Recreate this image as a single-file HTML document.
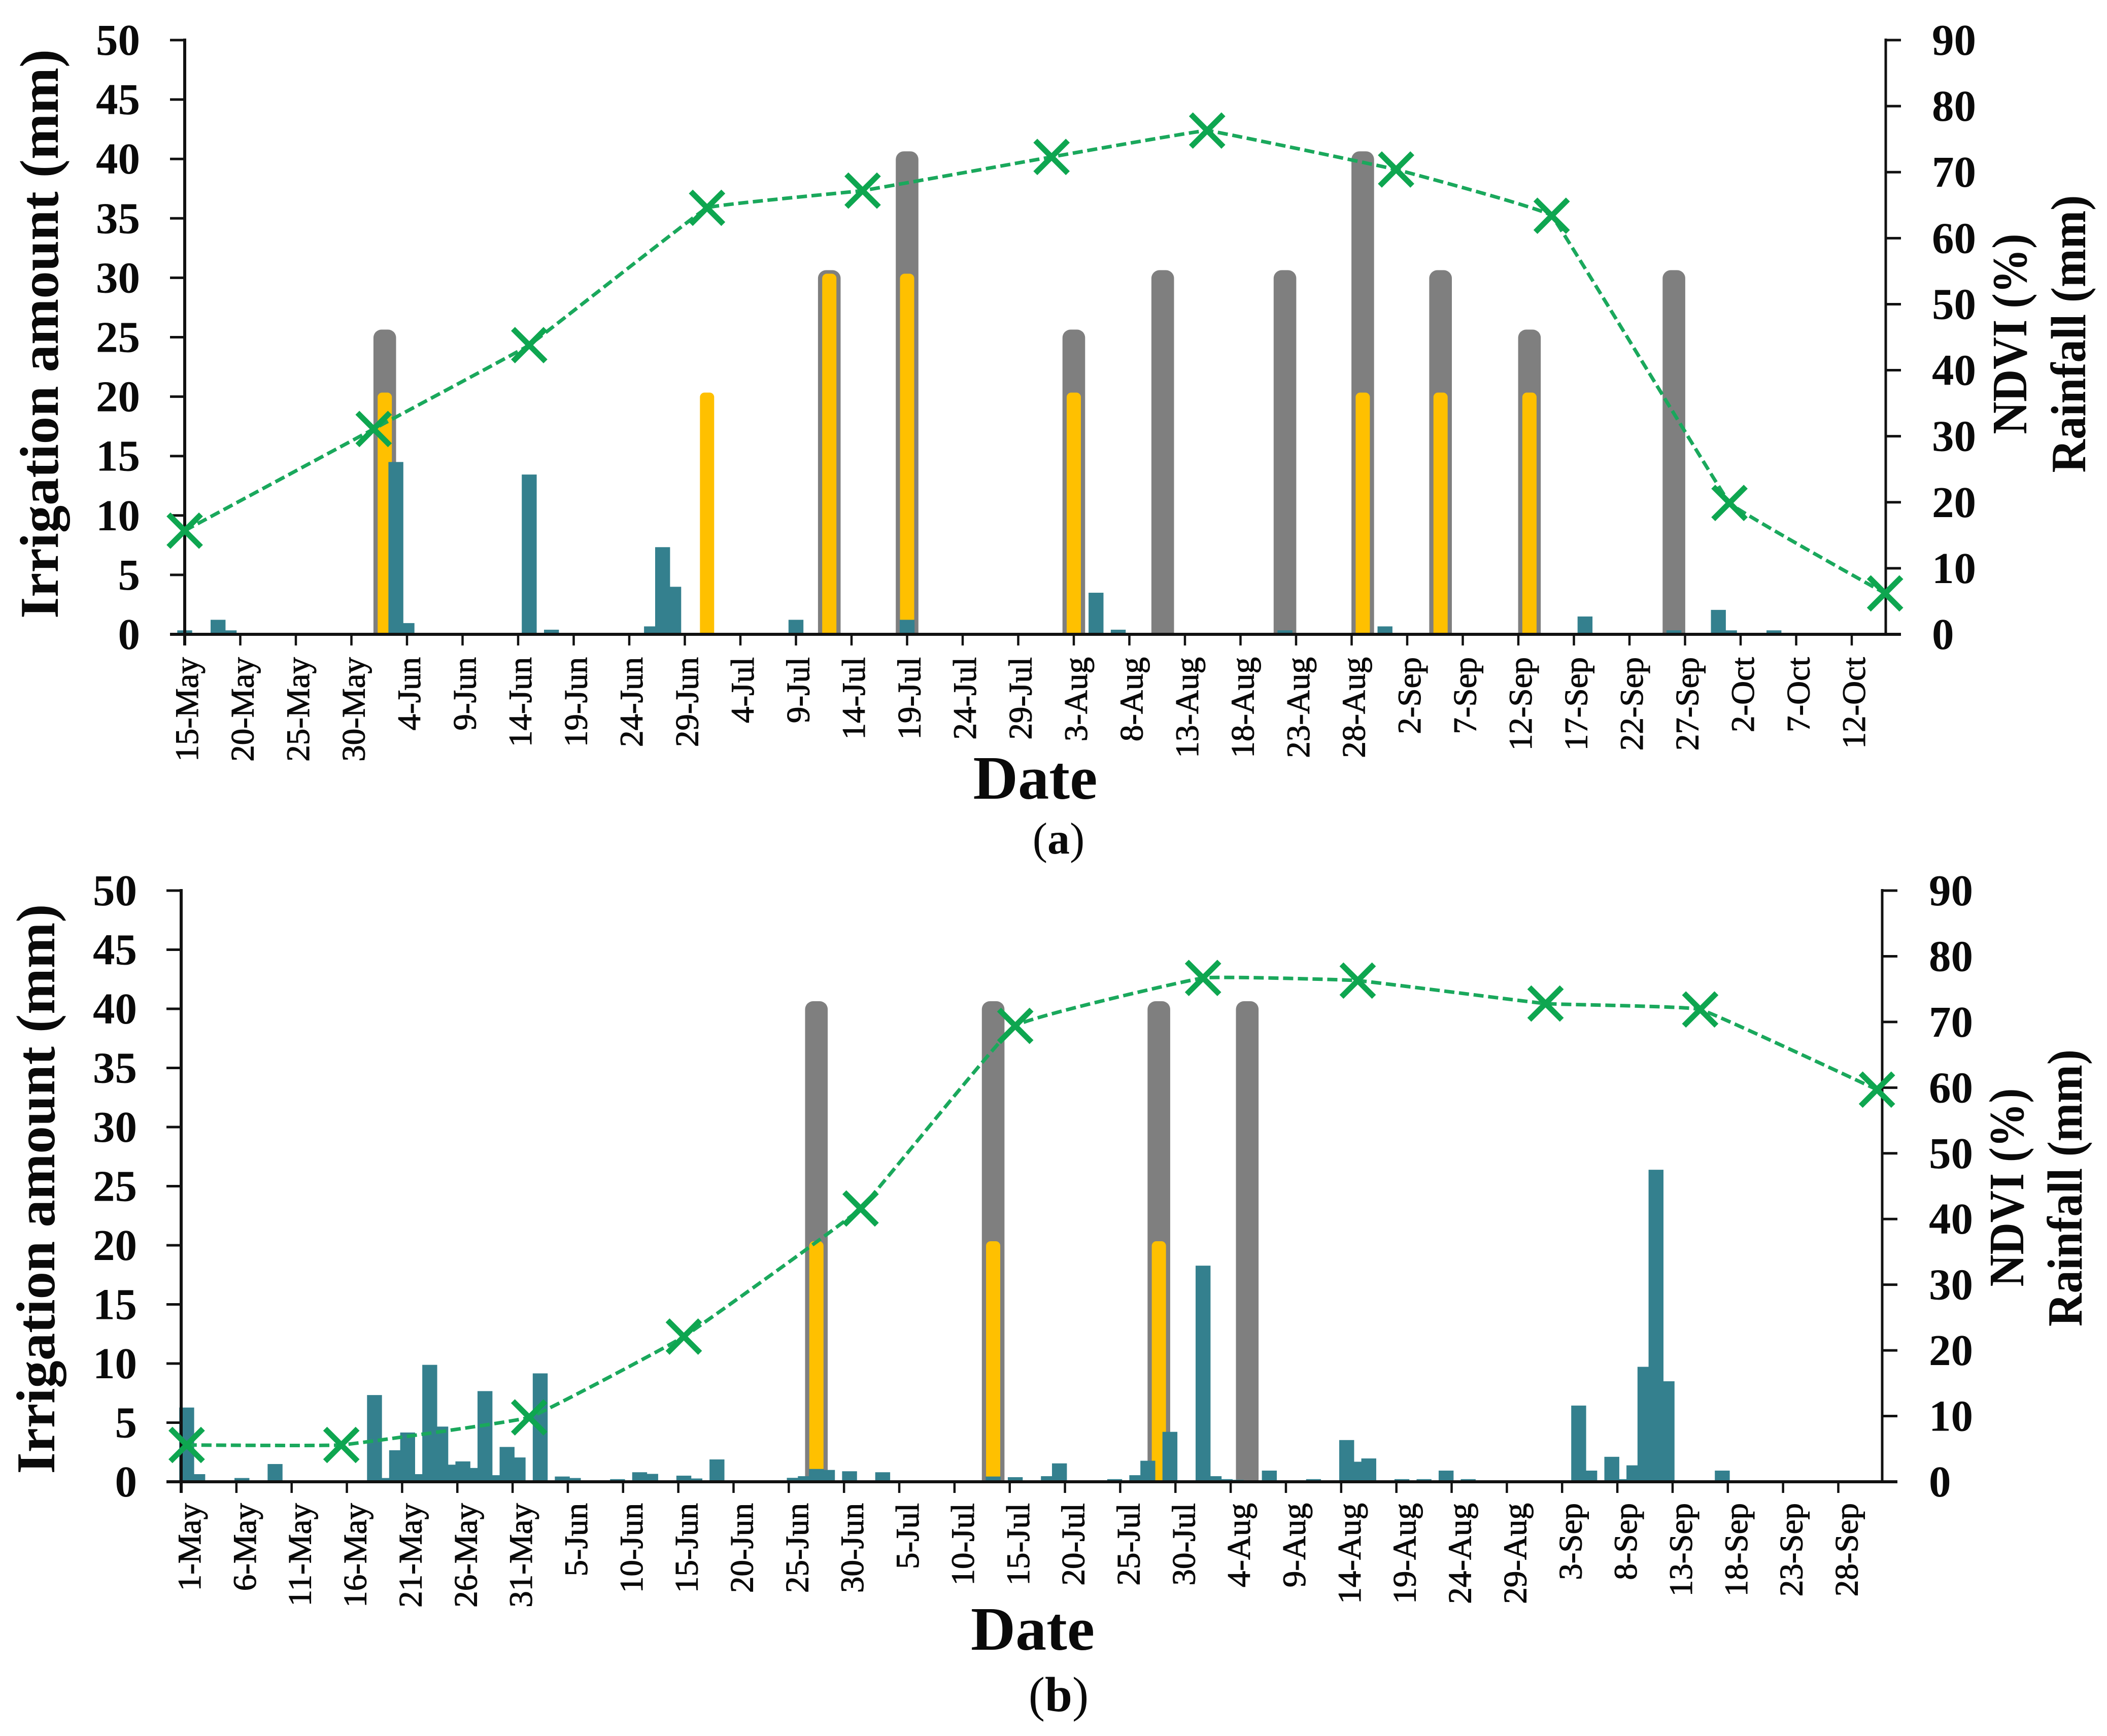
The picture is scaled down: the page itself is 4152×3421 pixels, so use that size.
<!DOCTYPE html>
<html lang="en">
<head>
<meta charset="utf-8">
<title>Irrigation, rainfall and NDVI charts</title>
<style>
html,body{margin:0;padding:0;background:#fff;}
svg{display:block;}
text{font-family:"Liberation Serif",serif;fill:#0a0a0a;}
.tickv{font-size:87px;font-weight:bold;}
.tickx{font-size:65px;stroke:#0a0a0a;stroke-width:1.1px;}
.title{font-size:108px;font-weight:bold;}
.rtitle{font-size:98px;font-weight:bold;}
.date{font-size:122px;font-weight:bold;}
</style>
</head>
<body>
<svg id="figure" xmlns="http://www.w3.org/2000/svg" width="4152" height="3421" viewBox="0 0 4152 3421">
<rect x="0" y="0" width="4152" height="3421" fill="#fff"/>
<g id="panel-a"></g>
<g id="panel-b"></g>

<text class="title" x="114" y="658" text-anchor="middle" textLength="1122" lengthAdjust="spacingAndGlyphs" transform="rotate(-90 114 658)">Irrigation amount (mm)</text>
<text class="rtitle" x="3993" y="658" text-anchor="middle" textLength="395" lengthAdjust="spacingAndGlyphs" transform="rotate(-90 3993 658)">NDVI (%)</text>
<text class="rtitle" x="4109" y="658" text-anchor="middle" textLength="547" lengthAdjust="spacingAndGlyphs" transform="rotate(-90 4109 658)">Rainfall (mm)</text>
<text class="date" x="2040" y="1574" text-anchor="middle" textLength="245" lengthAdjust="spacingAndGlyphs">Date</text>
<text x="2086" y="1682" text-anchor="middle" font-size="88">(<tspan font-weight="bold">a</tspan>)</text>

<text class="title" x="107" y="2343" text-anchor="middle" textLength="1123" lengthAdjust="spacingAndGlyphs" transform="rotate(-90 107 2343)">Irrigation amount (mm)</text>
<text class="rtitle" x="3987" y="2340" text-anchor="middle" textLength="391" lengthAdjust="spacingAndGlyphs" transform="rotate(-90 3987 2340)">NDVI (%)</text>
<text class="rtitle" x="4102" y="2341" text-anchor="middle" textLength="546" lengthAdjust="spacingAndGlyphs" transform="rotate(-90 4102 2341)">Rainfall (mm)</text>
<text class="date" x="2035" y="3251" text-anchor="middle" textLength="244" lengthAdjust="spacingAndGlyphs">Date</text>
<text x="2086" y="3372" text-anchor="middle" font-size="97">(<tspan font-weight="bold">b</tspan>)</text>
</svg>

<script>
// Shared tick values
const leftTicks = [0, 5, 10, 15, 20, 25, 30, 35, 40, 45, 50];
const rightTicks = [0, 10, 20, 30, 40, 50, 60, 70, 80, 90];

// Chart (a) data: day index counted from 15-May
const aDateLabels = ['15-May','20-May','25-May','30-May','4-Jun','9-Jun','14-Jun','19-Jun','24-Jun','29-Jun','4-Jul','9-Jul','14-Jul','19-Jul','24-Jul','29-Jul','3-Aug','8-Aug','13-Aug','18-Aug','23-Aug','28-Aug','2-Sep','7-Sep','12-Sep','17-Sep','22-Sep','27-Sep','2-Oct','7-Oct','12-Oct'];
const aRainDays = [0, 3, 4, 19, 20, 31, 33, 42, 43, 44, 55, 65, 82, 84, 99, 108, 126, 134, 138, 139, 143];
const aRainMm = [0.6, 2.2, 0.6, 26.1, 1.7, 24.2, 0.7, 1.2, 13.2, 7.2, 2.2, 2.2, 6.3, 0.7, 0.6, 1.2, 2.7, 0.6, 3.7, 0.6, 0.6];
const aIrrigationDays = [18, 58, 65, 80, 88, 99, 106, 113, 121, 134];
const aIrrigationMm = [25, 30, 40, 25, 30, 30, 40, 30, 25, 30];
const aYellowDays = [18, 47, 58, 65, 80, 106, 113, 121];
const aYellowMm = [20, 20, 30, 30, 20, 20, 20, 20];
const aNdviDays = [0, 17, 31, 47, 61, 78, 92, 109, 123, 139, 153];
const aNdviPct = [15.7, 31.1, 43.8, 64.6, 67.2, 72.3, 76.3, 70.4, 63.4, 19.9, 6.2];

// Chart (b) data: day index counted from 1-May
const bDateLabels = ['1-May','6-May','11-May','16-May','21-May','26-May','31-May','5-Jun','10-Jun','15-Jun','20-Jun','25-Jun','30-Jun','5-Jul','10-Jul','15-Jul','20-Jul','25-Jul','30-Jul','4-Aug','9-Aug','14-Aug','19-Aug','24-Aug','29-Aug','3-Sep','8-Sep','13-Sep','18-Sep','23-Sep','28-Sep'];
const bRainDays = [0, 1, 5, 8, 17, 18, 19, 20, 21, 22, 23, 24, 25, 26, 27, 28, 29, 30, 32, 34, 35, 39, 41, 42, 45, 46, 48, 55, 56, 57, 58, 60, 63, 73, 75, 78, 79, 84, 86, 87, 89, 92, 93, 94, 95, 98, 102, 105, 106, 107, 110, 112, 114, 116, 126, 127, 129, 130, 131, 132, 133, 134, 139];
const bRainMm = [11.3, 1.16, 0.57, 2.7, 13.2, 0.57, 4.8, 7.5, 1.16, 17.8, 8.4, 2.6, 3.1, 2.1, 13.8, 1.0, 5.3, 3.7, 16.5, 0.8, 0.57, 0.4, 1.45, 1.2, 0.93, 0.5, 3.4, 0.6, 0.85, 1.95, 1.8, 1.6, 1.45, 0.8, 0.7, 0.85, 2.8, 0.4, 1.0, 3.2, 7.6, 32.9, 0.85, 0.4, 0.3, 1.7, 0.4, 6.35, 3.05, 3.55, 0.4, 0.4, 1.7, 0.4, 11.6, 1.7, 3.8, 0.4, 2.5, 17.5, 47.5, 15.3, 1.7];
const bIrrigationDays = [57, 73, 88, 96];
const bIrrigationMm = [40, 40, 40, 40];
const bYellowDays = [57, 73, 88];
const bYellowMm = [20, 20, 20];
const bNdviDays = [0, 14, 31, 45, 61, 75, 92, 106, 123, 137, 153];
const bNdviPct = [5.6, 5.6, 9.8, 22.1, 41.6, 69.4, 76.7, 76.3, 72.8, 71.9, 59.7];

const SVGNS = 'http://www.w3.org/2000/svg';

function shape(parent, tag, attrs) {
  const node = document.createElementNS(SVGNS, tag);
  for (const k in attrs) node.setAttribute(k, attrs[k]);
  parent.appendChild(node);
  return node;
}

function roundTop(x, w, top, bottom, r) {
  return 'M' + x + ' ' + bottom + 'L' + x + ' ' + (top + r) + 'A' + r + ' ' + r + ' 0 0 1 ' + (x + r) + ' ' + top +
    'L' + (x + w - r) + ' ' + top + 'A' + r + ' ' + r + ' 0 0 1 ' + (x + w) + ' ' + (top + r) + 'L' + (x + w) + ' ' + bottom + 'Z';
}

function drawPanel(panel, g, geo, d) {
  const xDay = function (day) { return geo.x0 + geo.step * day; };
  const barX = function (day) { return xDay(day + geo.barOffset); };
  const yLeft = function (v) { return geo.y0 - (geo.y0 - geo.yTop) * v / 50; };
  const yRight = function (v) { return geo.y0 - (geo.y0 - geo.yTop) * v / 90; };

  d.irrigationDays.forEach(function (day, i) {
    const cx = barX(day);
    const el = shape(g, 'path', { d: roundTop(cx - 22.3, 44.6, yLeft(d.irrigationMm[i]) - 15, geo.y0, 16), fill: '#7f7f7f' });
    
    
  });
  d.yellowDays.forEach(function (day, i) {
    const cx = barX(day);
    const el = shape(g, 'path', { d: roundTop(cx - 14, 28, yLeft(d.yellowMm[i]) - 8, geo.y0, 9), fill: '#ffc000' });
    
    
  });
  d.rainDays.forEach(function (day, i) {
    const cx = barX(day);
    const top = yRight(d.rainMm[i]);
    const el = shape(g, 'rect', { x: cx - 14.7, y: top, width: 29.4, height: geo.y0 - top, fill: '#34808e' });
    
    
  });

  // Axes
  const xLine = shape(g, 'line', { x1: geo.x0 - 29, x2: geo.xRight + 30, y1: geo.y0, y2: geo.y0, stroke: '#111', 'stroke-width': 6 });
  
  
  const lLine = shape(g, 'line', { x1: geo.x0, x2: geo.x0, y1: geo.yTop - 3, y2: geo.y0 + 22, stroke: '#111', 'stroke-width': 6 });
  
  
  const rLine = shape(g, 'line', { x1: geo.xRight, x2: geo.xRight, y1: geo.yTop - 3, y2: geo.y0 + 3, stroke: '#111', 'stroke-width': 5 });
  
  

  leftTicks.forEach(function (v) {
    const tick = shape(g, 'line', { x1: geo.x0 - 29, x2: geo.x0, y1: yLeft(v), y2: yLeft(v), stroke: '#111', 'stroke-width': 5 });
    
    
    const label = shape(g, 'text', { x: geo.leftLabelX, y: yLeft(v) + 29, 'text-anchor': 'end', class: 'tickv' });
    
    
    label.textContent = v;
  });
  rightTicks.forEach(function (v) {
    const tick = shape(g, 'line', { x1: geo.xRight, x2: geo.xRight + 30, y1: yRight(v), y2: yRight(v), stroke: '#111', 'stroke-width': 5 });
    
    
    const label = shape(g, 'text', { x: geo.rightLabelX, y: yRight(v) + 29, class: 'tickv' });
    
    
    label.textContent = v;
  });
  d.dateLabels.forEach(function (name, i) {
    const px = xDay(i * 5);
    const tick = shape(g, 'line', { x1: px, x2: px, y1: geo.y0, y2: geo.y0 + 22, stroke: '#111', 'stroke-width': 4.5 });
    
    
    const bx = px + geo.labelShift;
    const by = geo.labelTop;
    const label = shape(g, 'text', { x: bx, y: by, 'text-anchor': 'end', class: 'tickx', transform: 'rotate(-90 ' + bx + ' ' + by + ')' });
    
    
    label.textContent = name;
  });

  // NDVI line with very light smoothing
  const pts = d.ndviDays.map(function (day, i) { return [barX(day), yRight(d.ndviPct[i])]; });
  let path = 'M' + pts[0][0] + ' ' + pts[0][1];
  for (let i = 0; i < pts.length - 1; i++) {
    const p0 = pts[Math.max(0, i - 1)], p1 = pts[i], p2 = pts[i + 1], p3 = pts[Math.min(pts.length - 1, i + 2)];
    const k = geo.smooth;
    path += 'C' + (p1[0] + (p2[0] - p0[0]) * k) + ' ' + (p1[1] + (p2[1] - p0[1]) * k) + ' ' +
      (p2[0] - (p3[0] - p1[0]) * k) + ' ' + (p2[1] - (p3[1] - p1[1]) * k) + ' ' + p2[0] + ' ' + p2[1];
  }
  const line = shape(g, 'path', { d: path, fill: 'none', stroke: '#1aa85c', 'stroke-width': 7, 'stroke-dasharray': '20 9' });
  
  

  pts.forEach(function (p) {
    const s = 32;
    const m = shape(g, 'path', { d: 'M' + (p[0] - s) + ' ' + (p[1] - s) + 'L' + (p[0] + s) + ' ' + (p[1] + s) + 'M' + (p[0] - s) + ' ' + (p[1] + s) + 'L' + (p[0] + s) + ' ' + (p[1] - s), fill: 'none', stroke: '#0ea650', 'stroke-width': 11 });
    
    
  });
}

drawPanel('chart-a', document.getElementById('panel-a'),
  { x0: 364, step: 21.9, xRight: 3716, y0: 1250, yTop: 79, barOffset: 0, leftLabelX: 276, rightLabelX: 3807, labelShift: 26, labelTop: 1295, smooth: 0.02 },
  { dateLabels: aDateLabels, rainDays: aRainDays, rainMm: aRainMm, irrigationDays: aIrrigationDays, irrigationMm: aIrrigationMm, yellowDays: aYellowDays, yellowMm: aYellowMm, ndviDays: aNdviDays, ndviPct: aNdviPct });

drawPanel('chart-b', document.getElementById('panel-b'),
  { x0: 357, step: 21.77, xRight: 3709, y0: 2920, yTop: 1755, barOffset: 0.5, leftLabelX: 270, rightLabelX: 3801, labelShift: 38, labelTop: 2962, smooth: 0.04 },
  { dateLabels: bDateLabels, rainDays: bRainDays, rainMm: bRainMm, irrigationDays: bIrrigationDays, irrigationMm: bIrrigationMm, yellowDays: bYellowDays, yellowMm: bYellowMm, ndviDays: bNdviDays, ndviPct: bNdviPct });
</script>
</body>
</html>
